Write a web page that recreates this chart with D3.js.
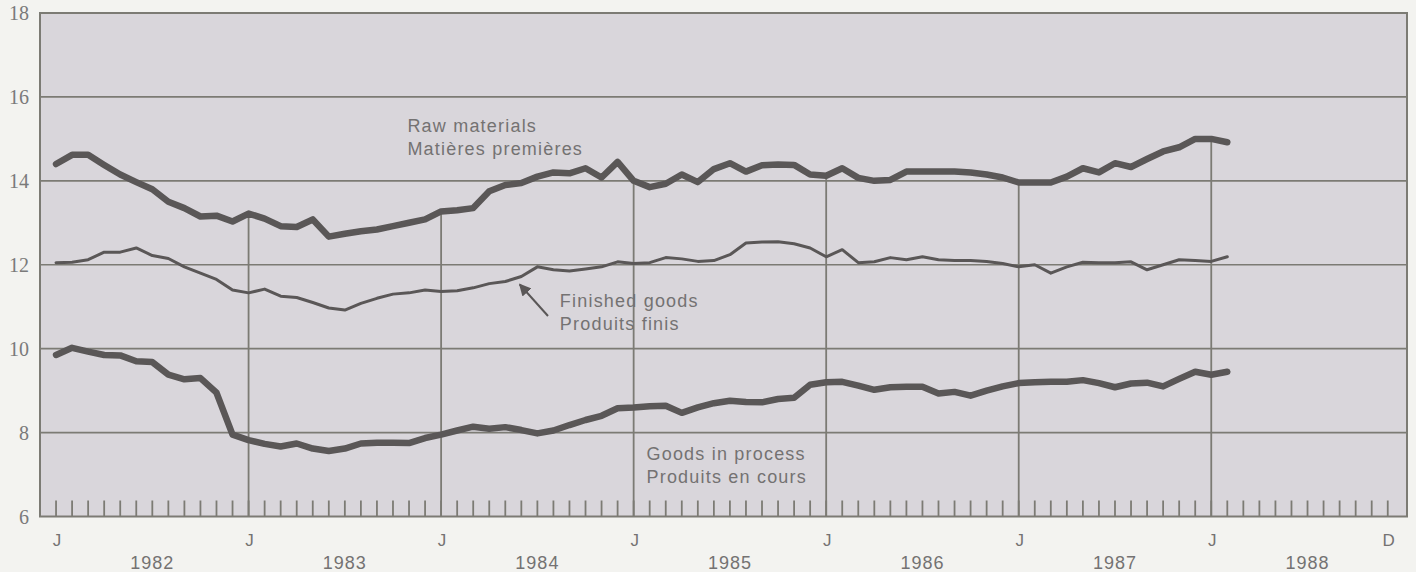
<!DOCTYPE html>
<html>
<head>
<meta charset="utf-8">
<script src="https://cdn.jsdelivr.net/npm/d3@7"></script>
<style>
  body { margin: 0; background: #f3f3f0; }
  text { font-family: "Liberation Sans", Arial, sans-serif; }
</style>
</head>
<body>
<div class="svg-container"></div>
<script>

// monthly series, Jan 1982 .. Feb 1988
const rawMaterials = [
  14.4, 14.62, 14.62, 14.38, 14.15, 13.97, 13.8, 13.5, 13.35, 13.15, 13.17, 13.03,
  13.22, 13.1, 12.92, 12.9, 13.08, 12.67, 12.74, 12.8, 12.84, 12.92, 13.0, 13.08,
  13.27, 13.3, 13.35, 13.75, 13.9, 13.95, 14.1, 14.2, 14.18, 14.3, 14.08, 14.45,
  14.0, 13.85, 13.93, 14.15, 13.97, 14.28, 14.42, 14.22, 14.37, 14.39, 14.38, 14.15,
  14.12, 14.3, 14.07, 14.0, 14.02, 14.22, 14.22, 14.22, 14.22, 14.2, 14.15, 14.08,
  13.96, 13.96, 13.96, 14.1, 14.3, 14.2, 14.42, 14.33, 14.52, 14.7, 14.8, 15.0,
  15.0, 14.92
];

const finishedGoods = [
  12.05, 12.06, 12.12, 12.3, 12.3, 12.4, 12.22, 12.15, 11.95, 11.8, 11.65, 11.4,
  11.33, 11.42, 11.25, 11.22, 11.1, 10.97, 10.92, 11.08, 11.2, 11.3, 11.33, 11.4,
  11.36, 11.38, 11.45, 11.55, 11.6, 11.72, 11.95, 11.88, 11.85, 11.9, 11.95, 12.07,
  12.03, 12.05, 12.17, 12.14, 12.08, 12.1, 12.24, 12.52, 12.54, 12.55, 12.5, 12.4,
  12.19, 12.36, 12.05, 12.07, 12.17, 12.12, 12.19, 12.12, 12.1, 12.1, 12.08, 12.03,
  11.95, 12.0, 11.8, 11.95, 12.06, 12.05, 12.05, 12.07, 11.88, 12.0, 12.12, 12.1,
  12.08, 12.19
];

const goodsInProcess = [
  9.85, 10.02, 9.93, 9.85, 9.84, 9.7, 9.68, 9.38, 9.27, 9.3, 8.95, 7.95,
  7.82, 7.73, 7.67, 7.74, 7.62, 7.56, 7.62, 7.74, 7.76, 7.76, 7.75, 7.87,
  7.95, 8.05, 8.14, 8.09, 8.13, 8.06, 7.98, 8.05, 8.18, 8.3, 8.4, 8.58,
  8.6, 8.63, 8.64, 8.47, 8.6, 8.7, 8.76, 8.73, 8.72, 8.8, 8.83, 9.14,
  9.2, 9.21, 9.12, 9.02, 9.08, 9.09, 9.09, 8.93, 8.97, 8.88, 9.0, 9.1,
  9.18, 9.2, 9.21, 9.21, 9.25, 9.18, 9.08, 9.17, 9.19, 9.1, 9.28, 9.45,
  9.38, 9.45
];

const years = [1982, 1983, 1984, 1985, 1986, 1987, 1988];
const yTicks = [6, 8, 10, 12, 14, 16, 18];
const gridValues = [8, 10, 12, 14, 16];

// labels on the chart
const seriesLabels = [
  { lines: ['Raw materials', 'Matières premières'], month: 21.9, value: 15.16 },
  { lines: ['Finished goods', 'Produits finis'], month: 31.4, value: 11.0 },
  { lines: ['Goods in process', 'Produits en cours'], month: 36.8, value: 7.35 }
];

function renderChart() {

  const width = 1416;
  const height = 572;
  const lineColour = '#5a5757';
  const gridColour = '#7c7b74';
  const textColour = '#747272';

  const svg = d3.select('.svg-container')
    .append('svg')
    .attr('width', width)
    .attr('height', height)

  // x in months since Jan 1982
  const x = d3.scaleLinear()
    .domain([-1, 84.2])
    .range([40, 1407])

  const y = d3.scaleLinear()
    .domain([6, 18])
    .range([516.5, 13])

  // plot background
  svg.append('rect')
    .attr('x', x(-1))
    .attr('y', y(18))
    .attr('width', x(84.2) - x(-1))
    .attr('height', y(6) - y(18))
    .style('fill', '#d9d6db')

  // horizontal grid
  svg.selectAll('.grid')
    .data(gridValues)
    .enter()
    .append('line')
    .attr('x1', x(-1))
    .attr('x2', x(84.2))
    .attr('y1', d => y(d))
    .attr('y2', d => y(d))
    .style('stroke', gridColour)
    .style('stroke-width', 1.6)

  // month ticks along the bottom
  const months = d3.range(0, 84);
  svg.selectAll('.mtick')
    .data(months)
    .enter()
    .append('line')
    .attr('x1', d => x(d))
    .attr('x2', d => x(d))
    .attr('y1', y(6) - 16)
    .attr('y2', y(6))
    .style('stroke', gridColour)
    .style('stroke-width', 1.8)

  // january lines run up to the raw materials curve
  const janMonths = years.slice(1).map((yr, i) => (i + 1) * 12);
  svg.selectAll('.jan')
    .data(janMonths)
    .enter()
    .append('line')
    .attr('x1', d => x(d))
    .attr('x2', d => x(d))
    .attr('y1', y(6))
    .attr('y2', d => y(rawMaterials[d]))
    .style('stroke', gridColour)
    .style('stroke-width', 1.8)

  // frame
  svg.append('rect')
    .attr('x', x(-1))
    .attr('y', y(18))
    .attr('width', x(84.2) - x(-1))
    .attr('height', y(6) - y(18))
    .style('fill', 'none')
    .style('stroke', gridColour)
    .style('stroke-width', 2)

  // y labels
  svg.selectAll('.ylab')
    .data(yTicks)
    .enter()
    .append('text')
    .attr('x', 29)
    .attr('y', d => y(d) + 7)
    .attr('text-anchor', 'end')
    .style('font-family', '"Liberation Serif", "DejaVu Serif", serif')
    .style('font-size', '20px')
    .style('fill', '#7a7a7a')
    .text(d => d)

  // month letters
  const monthLetters = years.map((yr, i) => ({ m: i * 12, t: 'J' }))
    .concat([{ m: 83, t: 'D' }]);
  svg.selectAll('.mlab')
    .data(monthLetters)
    .enter()
    .append('text')
    .attr('x', d => x(d.m) + 1)
    .attr('y', 546)
    .attr('text-anchor', 'middle')
    .style('font-size', '17px')
    .style('fill', textColour)
    .text(d => d.t)

  svg.selectAll('.year')
    .data(years)
    .enter()
    .append('text')
    .attr('x', (d, i) => x(i * 12 + 6))
    .attr('y', 569)
    .attr('text-anchor', 'middle')
    .style('font-size', '18px')
    .style('letter-spacing', '1px')
    .style('fill', textColour)
    .text(d => d)

  // the three series
  const line = d3.line()
    .x((d, i) => x(i))
    .y(d => y(d))

  const series = [
    { values: rawMaterials, w: 6.5 },
    { values: finishedGoods, w: 3 },
    { values: goodsInProcess, w: 6.5 }
  ];

  svg.selectAll('.series')
    .data(series)
    .enter()
    .append('path')
    .attr('d', d => line(d.values))
    .style('fill', 'none')
    .style('stroke', lineColour)
    .style('stroke-width', d => d.w)
    .style('stroke-linejoin', 'round')
    .style('stroke-linecap', 'round')

  // series labels
  seriesLabels.forEach(lab => {
    const t = svg.append('text')
      .attr('x', x(lab.month))
      .attr('y', y(lab.value))
      .style('font-size', '18px')
      .style('letter-spacing', '1.2px')
      .style('fill', textColour)
    t.selectAll('tspan')
      .data(lab.lines)
      .enter()
      .append('tspan')
      .attr('x', x(lab.month))
      .attr('dy', (d, i) => i === 0 ? 0 : 23)
      .text(d => d)
  });

  // arrow to finished goods
  svg.append('defs')
    .append('marker')
    .attr('id', 'head')
    .attr('viewBox', '0 0 10 10')
    .attr('refX', 9)
    .attr('refY', 5)
    .attr('markerWidth', 6)
    .attr('markerHeight', 6)
    .attr('orient', 'auto')
    .append('path')
    .attr('d', 'M0,0 L10,5 L0,10 z')
    .style('fill', lineColour)

  svg.append('line')
    .attr('x1', 548)
    .attr('y1', 316)
    .attr('x2', x(28.9))
    .attr('y2', y(finishedGoods[29]) + 8)
    .style('stroke', lineColour)
    .style('stroke-width', 2)
    .attr('marker-end', 'url(#head)')
}

renderChart();
</script>
</body>
</html>
